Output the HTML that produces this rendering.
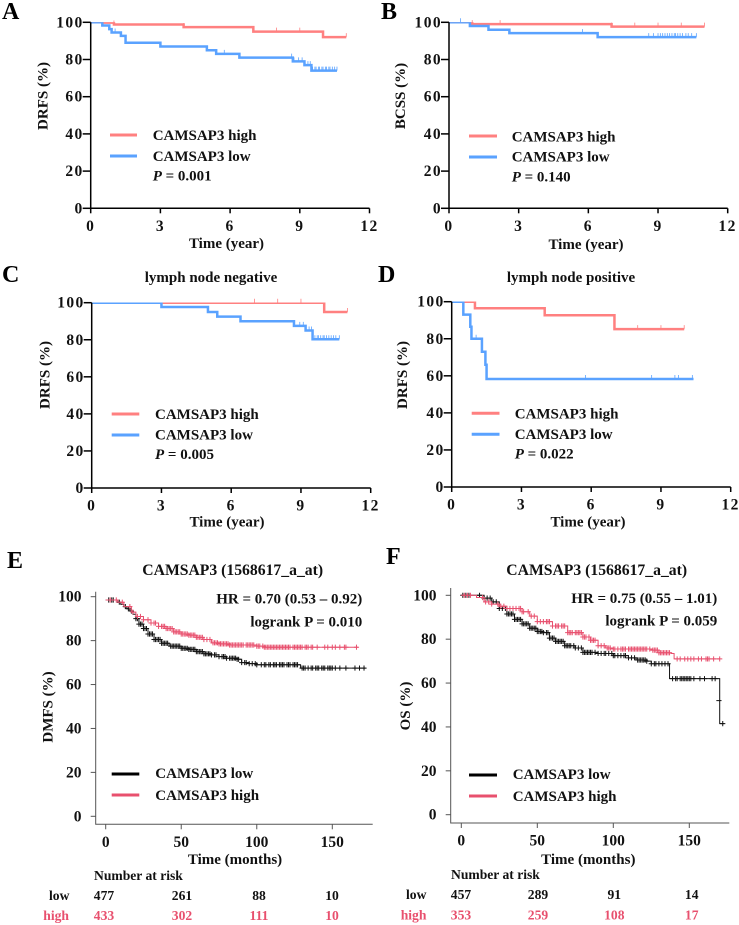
<!DOCTYPE html>
<html lang="en">
<head>
<meta charset="utf-8">
<title>CAMSAP3 survival curves</title>
<style>
html,body{margin:0;padding:0;background:#fff;}
svg{display:block;}
text{font-family:"Liberation Serif",serif;font-weight:bold;fill:#111;}
.ltr{font-size:24px;fill:#000;}
.lab{font-size:15px;}
.tick{font-size:15.5px;letter-spacing:1.4px;}
.mtick{font-size:15.5px;}
.ttl{font-size:15px;}
.big{font-size:15px;}
.btl{font-size:15.7px;}
.risk{font-size:13.6px;}
.rh{fill:#e8506e;}
</style>
</head>
<body>
<svg id="fig" width="739" height="925" viewBox="0 0 739 925" xmlns="http://www.w3.org/2000/svg">
<rect width="739" height="925" fill="#fff"/>

<g id="panel-a">
<text class="ltr" x="2" y="19">A</text>
<text class="lab" transform="translate(47.5 96) rotate(-90)" text-anchor="middle">DRFS (%)</text>
<text class="lab" x="226.5" y="248" text-anchor="middle">Time (year)</text>
<line x1="110" x2="137" y1="135" y2="135" stroke="#ff8080" stroke-width="3"/>
<line x1="110" x2="137" y1="156" y2="156" stroke="#5aa2ff" stroke-width="3"/>
<text class="lab" x="152.7" y="140">CAMSAP3 high</text>
<text class="lab" x="152.7" y="161">CAMSAP3 low</text>
<text class="lab" x="152.7" y="180.5"><tspan font-style="italic">P</tspan> = 0.001</text>
</g>

<g id="panel-b">
<text class="ltr" x="381" y="19">B</text>
<text class="lab" transform="translate(405 96) rotate(-90)" text-anchor="middle">BCSS (%)</text>
<text class="lab" x="586" y="249" text-anchor="middle">Time (year)</text>
<line x1="469" x2="497" y1="136" y2="136" stroke="#ff8080" stroke-width="3"/>
<line x1="469" x2="497" y1="157" y2="157" stroke="#5aa2ff" stroke-width="3"/>
<text class="lab" x="511.7" y="141.3">CAMSAP3 high</text>
<text class="lab" x="511.7" y="161.7">CAMSAP3 low</text>
<text class="lab" x="511.7" y="181.3"><tspan font-style="italic">P</tspan> = 0.140</text>
</g>

<g id="panel-c">
<text class="ltr" x="2" y="282">C</text>
<text class="ttl" x="211" y="282" text-anchor="middle">lymph node negative</text>
<text class="lab" transform="translate(49.5 375) rotate(-90)" text-anchor="middle">DRFS (%)</text>
<text class="lab" x="227" y="526.5" text-anchor="middle">Time (year)</text>
<line x1="111.7" x2="139.3" y1="414" y2="414" stroke="#ff8080" stroke-width="3"/>
<line x1="111.7" x2="139.3" y1="435" y2="435" stroke="#5aa2ff" stroke-width="3"/>
<text class="lab" x="155" y="419">CAMSAP3 high</text>
<text class="lab" x="155" y="439.3">CAMSAP3 low</text>
<text class="lab" x="155" y="459"><tspan font-style="italic">P</tspan> = 0.005</text>
</g>

<g id="panel-d">
<text class="ltr" x="378" y="282">D</text>
<text class="ttl" x="571" y="282" text-anchor="middle">lymph node positive</text>
<text class="lab" transform="translate(407 375) rotate(-90)" text-anchor="middle">DRFS (%)</text>
<text class="lab" x="588" y="526.5" text-anchor="middle">Time (year)</text>
<line x1="471.7" x2="499.5" y1="413.3" y2="413.3" stroke="#ff8080" stroke-width="3"/>
<line x1="471.7" x2="499.5" y1="434.3" y2="434.3" stroke="#5aa2ff" stroke-width="3"/>
<text class="lab" x="514.7" y="418.3">CAMSAP3 high</text>
<text class="lab" x="514.7" y="439">CAMSAP3 low</text>
<text class="lab" x="514.7" y="458.3"><tspan font-style="italic">P</tspan> = 0.022</text>
</g>

<g id="panel-e">
<text class="ltr" x="7" y="568">E</text>
<text class="btl" x="232.7" y="575" text-anchor="middle">CAMSAP3 (1568617_a_at)</text>
<text class="big" x="362.3" y="603.7" text-anchor="end">HR = 0.70 (0.53 – 0.92)</text>
<text class="big" x="362.3" y="626.7" text-anchor="end">logrank P = 0.010</text>
<text class="lab" transform="translate(52.5 707) rotate(-90)" text-anchor="middle">DMFS (%)</text>
<text class="big" x="235" y="864" text-anchor="middle">Time (months)</text>
<line x1="111.7" x2="139.3" y1="774" y2="774" stroke="#000" stroke-width="3"/>
<line x1="111.7" x2="139.3" y1="795" y2="795" stroke="#e8506e" stroke-width="3"/>
<text class="big" x="155.3" y="778">CAMSAP3 low</text>
<text class="big" x="155.3" y="800">CAMSAP3 high</text>
<text class="risk" x="94" y="880">Number at risk</text>
<text class="risk" x="49" y="900">low</text>
<text class="risk rh" x="43.3" y="920">high</text>
</g>

<g id="panel-f">
<text class="ltr" x="386" y="564">F</text>
<text class="btl" x="596.7" y="575" text-anchor="middle">CAMSAP3 (1568617_a_at)</text>
<text class="big" x="717.3" y="603" text-anchor="end">HR = 0.75 (0.55 – 1.01)</text>
<text class="big" x="717.3" y="625.7" text-anchor="end">logrank P = 0.059</text>
<text class="lab" transform="translate(410 706) rotate(-90)" text-anchor="middle">OS (%)</text>
<text class="big" x="588.3" y="864" text-anchor="middle">Time (months)</text>
<line x1="469" x2="497" y1="775" y2="775" stroke="#000" stroke-width="3"/>
<line x1="469" x2="497" y1="796" y2="796" stroke="#e8506e" stroke-width="3"/>
<text class="big" x="512.7" y="779">CAMSAP3 low</text>
<text class="big" x="512.7" y="801">CAMSAP3 high</text>
<text class="risk" x="451" y="879">Number at risk</text>
<text class="risk" x="406" y="899">low</text>
<text class="risk rh" x="400.7" y="919.5">high</text>
</g>
</svg>

<script>
/* ---------- shared tick labels ---------- */
var yearTicks = [0, 3, 6, 9, 12];
var percentTicks = [0, 20, 40, 60, 80, 100];
var monthTicks = [0, 50, 100, 150];

/* ---------- panel A ---------- */
var aHighTimes = [0, 0.6, 1, 4, 7, 10, 11];
var aHighSurv = [100, 99.8, 98.8, 97.4, 95, 92, 92];
var aHighCens = [1, 4, 7, 8, 9, 10, 11];
var aLowTimes = [0, 0.5, 0.8, 0.9, 1.3, 1.5, 3, 5, 5.4, 6.4, 8.7, 9.2, 9.5, 10.6];
var aLowSurv = [100, 98.3, 96.3, 94.5, 92.7, 89, 87, 85, 83, 81, 79, 77, 74, 74];
var aLowCens = [1.05, 5.75, 8.65, 8.75, 8.95, 9.1, 9.2, 9.35, 9.45, 9.55, 9.65, 9.7, 9.8, 9.85, 9.95, 10, 10.1, 10.15, 10.25, 10.3, 10.4, 10.5, 10.6];

/* ---------- panel B ---------- */
var bHighTimes = [0, 1, 7, 11];
var bHighSurv = [100, 99, 97.7, 97.7];
var bHighCens = [1, 2.2, 7, 8, 9, 10, 11];
var bLowTimes = [0, 0.9, 1.7, 2.6, 6.4, 10.65];
var bLowSurv = [100, 98, 96, 94.2, 92, 92];
var bLowCens = [0.5, 5.75, 8.6, 8.8, 9, 9.1, 9.2, 9.3, 9.4, 9.5, 9.6, 9.7, 9.75, 9.85, 9.95, 10.05, 10.2, 10.3, 10.45, 10.65];

/* ---------- panel C ---------- */
var cHighTimes = [0, 10, 11];
var cHighSurv = [100, 95, 95];
var cHighCens = [7, 8, 9, 11];
var cLowTimes = [0, 3, 5, 5.4, 6.4, 8.7, 9.2, 9.5, 10.65];
var cLowSurv = [100, 97.7, 95, 92.5, 90, 87.5, 85, 80.3, 80.3];
var cLowCens = [8.95, 9.1, 9.2, 9.35, 9.45, 9.6, 9.7, 9.75, 9.85, 9.95, 10, 10.1, 10.2, 10.3, 10.4, 10.5, 10.65];

/* ---------- panel D ---------- */
var dHighTimes = [0, 1, 4, 7, 10];
var dHighSurv = [100, 96.5, 92.7, 85.2, 85.2];
var dHighCens = [8, 9, 10];
var dLowTimes = [0, 0.5, 0.8, 0.85, 1.3, 1.45, 1.5, 10.4];
var dLowSurv = [100, 93, 86.5, 80, 73, 66, 58.3, 58.3];
var dLowCens = [1.05, 5.75, 8.6, 9.6, 9.75, 10.35];

/* ---------- panel E ---------- */
var eLowTimes = [0, 3, 8, 10, 12, 14, 16, 18, 20, 22, 25, 28, 32, 37, 42, 50, 55, 60, 65, 70, 75, 80, 87, 90, 95, 100, 127, 129, 172];
var eLowSurv = [98.5, 98.5, 97.5, 96.5, 95.5, 94.5, 93.5, 92, 90, 87.5, 85.5, 83, 80.5, 78.8, 77.5, 76.5, 76, 75, 74, 73.5, 72.7, 72, 71.5, 70, 69.5, 69, 69, 67.5, 67.5];
var eLowCens = [2, 4, 5, 9, 13, 15, 17, 20, 21, 22, 23, 24, 25, 26, 27, 28, 29, 30, 31, 32, 33, 34, 35, 36, 37, 38, 39, 40, 41, 43, 44, 45, 46, 47, 48, 49, 50, 51, 52, 53, 54, 55, 56, 57, 58, 59, 60, 61, 62, 63, 64, 65, 66, 67, 68, 69, 70, 72, 73, 75, 77, 78, 79, 80, 82, 83, 84, 85, 86, 87, 88, 90, 92, 93, 95, 97, 99, 100, 103, 105, 106, 108, 109, 111, 112, 113, 115, 116, 117, 118, 120, 121, 122, 124, 125, 126, 127, 130, 131, 132, 134, 136, 137, 139, 140, 141, 143, 144, 145, 147, 148, 149, 150, 152, 155, 159, 165, 168, 171];
var eHighTimes = [0, 3, 8, 12, 17, 20, 25, 30, 35, 40, 45, 50, 55, 60, 65, 70, 75, 82, 90, 100, 105, 167];
var eHighSurv = [98.5, 98.5, 97.5, 95.5, 93, 91, 89.5, 88, 86.5, 85.5, 84, 83, 82.5, 81.5, 80.5, 79, 78.5, 78, 78, 77.5, 77, 77];
var eHighCens = [3, 7, 11, 16, 18, 21, 23, 25, 28, 30, 32, 33, 35, 37, 38, 39, 40, 41, 42, 43, 44, 45, 46, 47, 48, 49, 50, 51, 52, 53, 54, 55, 56, 57, 58, 59, 60, 61, 62, 63, 64, 65, 67, 69, 71, 72, 73, 74, 75, 76, 77, 78, 79, 80, 81, 82, 83, 84, 85, 86, 87, 88, 89, 90, 91, 93, 94, 95, 96, 97, 98, 100, 101, 102, 104, 105, 106, 107, 108, 109, 110, 111, 112, 113, 114, 115, 116, 117, 118, 119, 120, 121, 122, 124, 125, 126, 127, 128, 129, 130, 132, 133, 134, 136, 137, 140, 145, 147, 150, 152, 155, 158, 159, 166];

/* ---------- panel F ---------- */
var fLowTimes = [0, 10, 15, 20, 25, 30, 35, 40, 45, 50, 54, 58, 62, 68, 75, 80, 90, 100, 110, 115, 122, 125, 136, 137, 169, 170, 173];
var fLowSurv = [100, 100, 98.7, 97, 94, 91.5, 89, 87, 85, 83.5, 83, 80.5, 79, 77, 76, 74, 73.5, 72.5, 71.5, 70.5, 70, 68.8, 68.8, 62, 62, 41.5, 41.5];
var fLowCens = [1, 3, 5, 12, 15, 17, 19, 21, 23, 25, 27, 29, 30, 31, 32, 33, 34, 35, 36, 37, 38, 39, 40, 41, 42, 43, 44, 45, 46, 47, 48, 49, 50, 51, 52, 53, 54, 56, 57, 58, 59, 60, 61, 62, 63, 64, 65, 66, 67, 68, 69, 70, 71, 72, 74, 75, 77, 79, 80, 81, 82, 83, 84, 85, 86, 88, 90, 92, 94, 95, 97, 99, 100, 101, 103, 105, 107, 108, 110, 112, 114, 116, 117, 118, 119, 120, 121, 122, 125, 127, 128, 130, 132, 134, 136, 139, 141, 142, 144, 145, 146, 147, 148, 149, 150, 151, 153, 157, 160, 165, 167, 172];
var fLowExtraT = [169.5];
var fLowExtraS = [52];
var fHighTimes = [0, 10, 15, 20, 25, 30, 40, 45, 50, 60, 70, 80, 85, 90, 95, 100, 125, 130, 138, 140, 170];
var fHighSurv = [100, 99, 97, 96, 95, 94, 92.5, 90.5, 88, 86, 83, 81, 79.5, 77, 76, 75.5, 75, 73.8, 73.5, 71, 71];
var fHighCens = [2, 4, 6, 14, 16, 18, 20, 24, 26, 28, 30, 32, 34, 36, 38, 39, 40, 41, 44, 46, 48, 50, 52, 54, 56, 57, 58, 60, 62, 63, 64, 66, 67, 68, 70, 71, 72, 73, 75, 76, 77, 78, 79, 80, 81, 82, 84, 85, 86, 87, 88, 90, 92, 94, 96, 97, 98, 100, 101, 103, 105, 106, 107, 108, 110, 111, 112, 113, 114, 115, 116, 117, 118, 119, 120, 121, 122, 124, 126, 127, 128, 129, 130, 131, 132, 133, 134, 135, 136, 137, 142, 144, 147, 149, 151, 153, 156, 158, 161, 162, 163, 166, 170];

/* ---------- risk tables ---------- */
var eRiskLow = ['477', '261', '88', '10'];
var eRiskHigh = ['433', '302', '111', '10'];
var fRiskLow = ['457', '289', '91', '14'];
var fRiskHigh = ['353', '259', '108', '17'];

var NS = 'http://www.w3.org/2000/svg';

function node(parent, tag, attrs) {
  var el = document.createElementNS(NS, tag);
  for (var k in attrs) { el.setAttribute(k, attrs[k]); }
  parent.appendChild(el);
  return el;
}

function stepValue(times, surv, t) {
  var v = surv[0];
  for (var i = 0; i < times.length; i++) { if (times[i] <= t) { v = surv[i]; } }
  return v;
}

function stepPath(times, surv, xs, ys) {
  var d = 'M' + xs(times[0]) + ' ' + ys(surv[0]);
  for (var i = 1; i < times.length; i++) {
    d += 'H' + xs(times[i]) + 'V' + ys(surv[i]);
  }
  return d;
}

function drawSeries(g, cfg, times, surv, cens, color, width, name, mode, clipId) {
  var xs = cfg.x, ys = cfg.y;
  var attrs = {d: stepPath(times, surv, xs, ys), fill: 'none', stroke: color, 'stroke-width': width};
  if (clipId) { attrs['clip-path'] = 'url(#' + clipId + ')'; }
  var path = node(g, 'path', attrs);
  
  
  var cg = node(g, 'g', {stroke: color, fill: 'none'});
  
  
  var d = '';
  cens.forEach(function (t) {
    var px = xs(t), py = ys(stepValue(times, surv, t));
    if (mode === 'plus') {
      d += 'M' + (px - 2.6) + ' ' + py + 'H' + (px + 2.6) + 'M' + px + ' ' + (py - 2.6) + 'V' + (py + 2.6);
    } else {
      d += 'M' + px + ' ' + (py - 4) + 'V' + py;
    }
  });
  var marks = node(cg, 'path', {d: d, 'stroke-width': mode === 'plus' ? 1 : 0.8});
  
  
}

function drawAxesYear(g, cfg, key) {
  var xs = cfg.x, ys = cfg.y;
  var ax = node(g, 'path', {
    d: 'M' + xs(0) + ' ' + ys(100) + 'V' + ys(0) + 'H' + xs(12),
    fill: 'none', stroke: '#000', 'stroke-width': 1.5
  });
  
  
  yearTicks.forEach(function (v) {
    var t = node(g, 'line', {x1: xs(v), x2: xs(v), y1: ys(0), y2: ys(0) + 5, stroke: '#000', 'stroke-width': 1.5});
    
    
    var l = node(g, 'text', {'class': 'tick', x: xs(v), y: ys(0) + 22.5, 'text-anchor': 'middle'});
    l.textContent = v;
    
    
  });
  percentTicks.forEach(function (v) {
    var t = node(g, 'line', {x1: xs(0) - 8, x2: xs(0), y1: ys(v), y2: ys(v), stroke: '#000', 'stroke-width': 1.5});
    
    
    var l = node(g, 'text', {'class': 'tick', x: xs(0) - 7, y: ys(v) + 5, 'text-anchor': 'end'});
    l.textContent = v;
    
    
  });
}

function drawAxesMonth(g, cfg, key) {
  var xs = cfg.x, ys = cfg.y, c = '#555';
  var ax = node(g, 'path', {
    d: 'M' + cfg.left + ' ' + cfg.top + 'V' + cfg.bottom + 'H' + cfg.right,
    fill: 'none', stroke: c, 'stroke-width': 1
  });
  
  
  monthTicks.forEach(function (v) {
    var t = node(g, 'line', {x1: xs(v), x2: xs(v), y1: cfg.bottom, y2: cfg.bottom + 5, stroke: c, 'stroke-width': 1});
    
    
    var l = node(g, 'text', {'class': 'mtick', x: xs(v), y: cfg.bottom + 22.5, 'text-anchor': 'middle'});
    l.textContent = v;
    
    
  });
  percentTicks.forEach(function (v) {
    var t = node(g, 'line', {x1: cfg.left - 5, x2: cfg.left, y1: ys(v), y2: ys(v), stroke: c, 'stroke-width': 1});
    
    
    var l = node(g, 'text', {'class': 'mtick', x: cfg.labelRight, y: ys(v) + 5, 'text-anchor': 'end'});
    l.textContent = v;
    
    
  });
}

function linear(d0, d1, r0, r1) {
  return function (v) { return +(r0 + (v - d0) * (r1 - r0) / (d1 - d0)).toFixed(2); };
}

function yearPanel(id, key, x0, x12, y100, y0, hi, lo) {
  var g = document.getElementById(id);
  var cfg = {x: linear(0, 12, x0, x12), y: linear(0, 100, y0, y100)};
  var clipId = 'clip-' + key;
  var clip = node(g, 'clipPath', {id: clipId});
  node(clip, 'rect', {x: 0, y: y100 - 0.2, width: 739, height: y0 - y100 + 0.2});
  drawSeries(g, cfg, hi[0], hi[1], hi[2], '#ff8080', 2.5, 'camsap3-high-' + key, 'tick', clipId);
  drawSeries(g, cfg, lo[0], lo[1], lo[2], '#5aa2ff', 2.5, 'camsap3-low-' + key, 'tick', clipId);
  drawAxesYear(g, cfg, key);
}

function monthPanel(id, key, cfg, lo, hi, riskLo, riskHi, riskCenters, yLo, yHi) {
  var g = document.getElementById(id);
  drawAxesMonth(g, cfg, key);
  drawSeries(g, cfg, lo[0], lo[1], lo[2], '#111', 1, 'camsap3-low-' + key, 'plus');
  drawSeries(g, cfg, hi[0], hi[1], hi[2], '#e8506e', 1, 'camsap3-high-' + key, 'plus');
  riskLo.forEach(function (s, i) {
    var a = node(g, 'text', {'class': 'risk', x: riskCenters[i], y: yLo, 'text-anchor': 'middle'});
    a.textContent = s;
    
    
    var b = node(g, 'text', {'class': 'risk rh', x: riskCenters[i], y: yHi, 'text-anchor': 'middle'});
    b.textContent = riskHi[i];
    
    
  });
}

yearPanel('panel-a', 'a', 90.7, 369.5, 22.3, 208.3, [aHighTimes, aHighSurv, aHighCens], [aLowTimes, aLowSurv, aLowCens]);
yearPanel('panel-b', 'b', 449, 727.7, 22.3, 208.3, [bHighTimes, bHighSurv, bHighCens], [bLowTimes, bLowSurv, bLowCens]);
yearPanel('panel-c', 'c', 91.7, 370.7, 302.7, 488, [cHighTimes, cHighSurv, cHighCens], [cLowTimes, cLowSurv, cLowCens]);
yearPanel('panel-d', 'd', 451.7, 730.7, 301.7, 487, [dHighTimes, dHighSurv, dHighCens], [dLowTimes, dLowSurv, dLowCens]);

var eCfg = {x: linear(0, 150, 105.7, 332.3), y: linear(0, 100, 816.3, 596.7), left: 95.7, right: 372.7, top: 591.7, bottom: 824.3, labelRight: 81.5};
var fCfg = {x: linear(0, 150, 461.3, 689.3), y: linear(0, 100, 814.7, 595.3), left: 450.7, right: 729.3, top: 588, bottom: 823, labelRight: 436.5};

monthPanel('panel-e', 'e', eCfg, [eLowTimes, eLowSurv, eLowCens], [eHighTimes, eHighSurv, eHighCens], eRiskLow, eRiskHigh, [104, 182, 259, 332], 900, 920);
monthPanel('panel-f', 'f', fCfg, [fLowTimes, fLowSurv, fLowCens], [fHighTimes, fHighSurv, fHighCens], fRiskLow, fRiskHigh, [461, 538, 614.3, 691.7], 899, 919.5);

/* extra censor marks on the final drop of panel F's low curve */
fLowExtraT.forEach(function (t, i) {
  var px = fCfg.x(t), py = fCfg.y(fLowExtraS[i]);
  var m = node(document.getElementById('panel-f'), 'path', {
    d: 'M' + (px - 2.6) + ' ' + py + 'H' + (px + 2.6),
    stroke: '#111', 'stroke-width': 1, fill: 'none'
  });
  
  
});
</script>
</body>
</html>
